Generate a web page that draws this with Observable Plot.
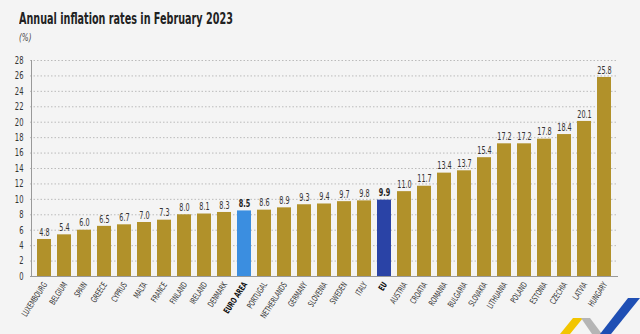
<!DOCTYPE html>
<html><head><meta charset="utf-8">
<script src="https://cdn.jsdelivr.net/npm/d3@7"></script>
<script src="https://cdn.jsdelivr.net/npm/@observablehq/plot@0.6"></script>
<style>
body{margin:0;background:#f4f4f4;}
#wrap{position:relative;width:640px;height:334px;background:#f4f4f4;overflow:hidden;font-family:"DejaVu Sans Condensed","DejaVu Sans",sans-serif;}
#title{position:absolute;left:19px;top:9px;font-size:16px;font-weight:bold;color:#222;transform:scaleX(0.67);transform-origin:0 0;white-space:nowrap;}
#unit{position:absolute;left:19px;top:32px;font-size:10px;font-style:italic;color:#444;transform:scaleX(0.8);transform-origin:0 0;}
#chart{position:absolute;left:0;top:0;}
#logo{position:absolute;left:0;top:0;}
</style></head>
<body><div id="wrap"><div id="chart"></div>
<div id="title">Annual inflation rates in February 2023</div>
<div id="unit">(%)</div>
<svg id="logo" width="640" height="334"><polygon points="560,334 573,318 583,318 570,334" fill="#f2c500"/><polygon points="581,318 590,318 602,334 592,334" fill="#b5b5b5"/><polygon points="600,334 628,298 640,298 611,334" fill="#1f4fb4"/></svg>
</div>
<script>
const countries = ["LUXEMBOURG","BELGIUM","SPAIN","GREECE","CYPRUS","MALTA","FRANCE","FINLAND","IRELAND","DENMARK","EURO AREA","PORTUGAL","NETHERLANDS","GERMANY","SLOVENIA","SWEDEN","ITALY","EU","AUSTRIA","CROATIA","ROMANIA","BULGARIA","SLOVAKIA","LITHUANIA","POLAND","ESTONIA","CZECHIA","LATVIA","HUNGARY"];
const values = [4.8,5.4,6.0,6.5,6.7,7.0,7.3,8.0,8.1,8.3,8.5,8.6,8.9,9.3,9.4,9.7,9.8,9.9,11.0,11.7,13.4,13.7,15.4,17.2,17.2,17.8,18.4,20.1,25.8];
const yTicks = [0,2,4,6,8,10,12,14,16,18,20,22,24,26,28];
const highlight = {"EURO AREA":"#3b8ee0","EU":"#2a43a6"};
const data = countries.map((c,i)=>({country:c,value:values[i],color:highlight[c]||"#b1912a",bold:!!highlight[c]}));
const font = '"DejaVu Sans Condensed","DejaVu Sans",sans-serif';
const chart = Plot.plot({
  width:640,height:334,
  marginTop:60,marginBottom:58,marginLeft:30,marginRight:22,
  style:{background:"transparent",fontFamily:font,fontSize:"10px",color:"#333"},
  x:{domain:countries,padding:0.3,axis:null},
  y:{domain:[0,28],ticks:yTicks,label:null},
  marks:[
    Plot.gridY(yTicks.filter(d=>d>0),{stroke:"#bbb",strokeOpacity:1,strokeDasharray:"1.5,2"}),
    Plot.axisY({ticks:yTicks,tickSize:0,tickPadding:7,label:null,fontSize:10.5,fill:"#333"}),
    Plot.barY(data,{x:"country",y:"value",fill:"color"}),
    Plot.ruleY([0],{stroke:"#999"}),
    Plot.text(data.filter(d=>!d.bold),{x:"country",y:"value",text:d=>d.value.toFixed(1),dy:-7,fontSize:10,fill:"#333"}),
    Plot.text(data.filter(d=>d.bold),{x:"country",y:"value",text:d=>d.value.toFixed(1),dy:-7,fontSize:10,fontWeight:"bold",fill:"#222"}),
    Plot.text(data.filter(d=>!d.bold),{x:"country",frameAnchor:"bottom",dy:8,dx:3,rotate:-57,textAnchor:"end",text:"country",fontSize:8.5,fill:"#333"}),
    Plot.text(data.filter(d=>d.bold),{x:"country",frameAnchor:"bottom",dy:8,dx:3,rotate:-57,textAnchor:"end",text:"country",fontSize:8.5,fontWeight:"bold",fill:"#111"})
  ]
});
document.getElementById("chart").appendChild(chart);
const svg = d3.select(chart);
svg.append("line").attr("x1",31.5).attr("x2",31.5).attr("y1",60).attr("y2",276).attr("stroke","#999");
// condense glyphs to mimic the narrow typeface of the original
svg.selectAll("text").each(function(){
  const t = this; const len = t.getComputedTextLength();
  if (len > 0) { t.setAttribute("textLength", (len*0.72).toFixed(2)); t.setAttribute("lengthAdjust","spacingAndGlyphs"); }
});
</script></body></html>
